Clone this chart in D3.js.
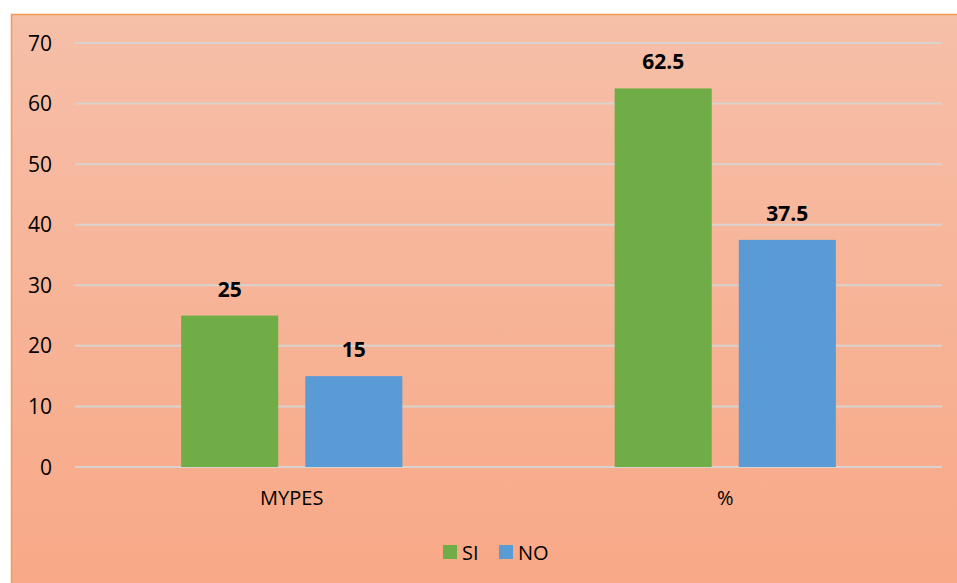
<!DOCTYPE html>
<html>
<head>
<meta charset="utf-8">
<script src="https://cdn.jsdelivr.net/npm/d3@7"></script>
<style>
  html, body { margin: 0; padding: 0; background: #fff; }
  svg { display: block; font-family: "Open Sans", "Liberation Sans", sans-serif; }
</style>
</head>
<body>
<svg id="chart" width="957" height="583"></svg>
<script>
// Data
const categories = ["MYPES", "%"];
const seriesNames = ["SI", "NO"];
const siValues = [25, 62.5];
const noValues = [15, 37.5];
const yTicks = [0, 10, 20, 30, 40, 50, 60, 70];
const seriesColors = ["#70AD47", "#5B9BD5"];

const rows = categories.map((c, i) => ({ category: c, values: [siValues[i], noValues[i]] }));

const svg = d3.select("#chart");
const W = 957, H = 583;

// Background panel with vertical gradient
const defs = svg.append("defs");
const grad = defs.append("linearGradient").attr("id", "bg").attr("x1", 0).attr("y1", 0).attr("x2", 0).attr("y2", 1);
grad.append("stop").attr("offset", "0%").attr("stop-color", "#F6BFA8");
grad.append("stop").attr("offset", "100%").attr("stop-color", "#F8A886");

svg.append("rect")
  .attr("x", 11.5).attr("y", 14.5)
  .attr("width", W).attr("height", H)
  .attr("fill", "url(#bg)")
  .attr("stroke", "#F39A5A").attr("stroke-width", 1.5);

const plot = { left: 75, right: 942, top: 43, bottom: 467 };

const y = d3.scaleLinear().domain([0, 70]).range([plot.bottom, plot.top]);
const x0 = d3.scaleBand().domain(categories).range([plot.left, plot.right]).padding(0);
const x1 = d3.scaleBand().domain(seriesNames).range([0, x0.bandwidth()])
  .paddingInner(0.218).paddingOuter(0.855);

// Gridlines
svg.append("g")
  .selectAll("line")
  .data(yTicks)
  .join("line")
  .attr("x1", plot.left).attr("x2", plot.right)
  .attr("y1", d => y(d)).attr("y2", d => y(d))
  .attr("stroke", "#D9D3CF").attr("stroke-width", 2);

// Y axis labels
const yAxis = d3.axisLeft(y).tickValues(yTicks).tickSize(0).tickPadding(0);
const yg = svg.append("g").attr("transform", `translate(52,0)`).call(yAxis);
yg.select(".domain").remove();
yg.selectAll("text")
  .attr("font-family", "Open Sans, sans-serif")
  .attr("font-size", 21).attr("fill", "#000").attr("dy", "0.34em");

// Bars
const groups = svg.append("g")
  .selectAll("g")
  .data(rows)
  .join("g")
  .attr("transform", d => `translate(${x0(d.category)},0)`);

groups.selectAll("rect")
  .data(d => d.values.map((v, i) => ({ name: seriesNames[i], value: v, color: seriesColors[i] })))
  .join("rect")
  .attr("x", d => x1(d.name))
  .attr("width", x1.bandwidth())
  .attr("y", d => y(d.value))
  .attr("height", d => y(0) - y(d.value))
  .attr("fill", d => d.color);

// Value labels
groups.selectAll("text.val")
  .data(d => d.values.map((v, i) => ({ name: seriesNames[i], value: v })))
  .join("text")
  .attr("class", "val")
  .attr("x", d => x1(d.name) + x1.bandwidth() / 2)
  .attr("y", d => y(d.value) - 19)
  .attr("text-anchor", "middle")
  .attr("font-size", 21).attr("font-weight", "bold").attr("fill", "#000")
  .text(d => d.value);

// Category axis labels
const xAxis = d3.axisBottom(x0).tickSize(0).tickPadding(0);
const xg = svg.append("g").attr("transform", `translate(0,505)`).call(xAxis);
xg.select(".domain").remove();
xg.selectAll("text")
  .attr("font-family", "Open Sans, sans-serif")
  .attr("font-size", 20).attr("fill", "#000").attr("dy", 0);

// Legend
const legend = svg.append("g").attr("transform", "translate(443,545)");
const legendItems = [
  { name: seriesNames[0], color: seriesColors[0], dx: 0 },
  { name: seriesNames[1], color: seriesColors[1], dx: 56 }
];
const li = legend.selectAll("g").data(legendItems).join("g")
  .attr("transform", d => `translate(${d.dx},0)`);
li.append("rect").attr("width", 14).attr("height", 14).attr("fill", d => d.color);
li.append("text").attr("x", 19).attr("y", 14.5)
  .attr("font-size", 20).attr("fill", "#000").text(d => d.name);
</script>
</body>
</html>
